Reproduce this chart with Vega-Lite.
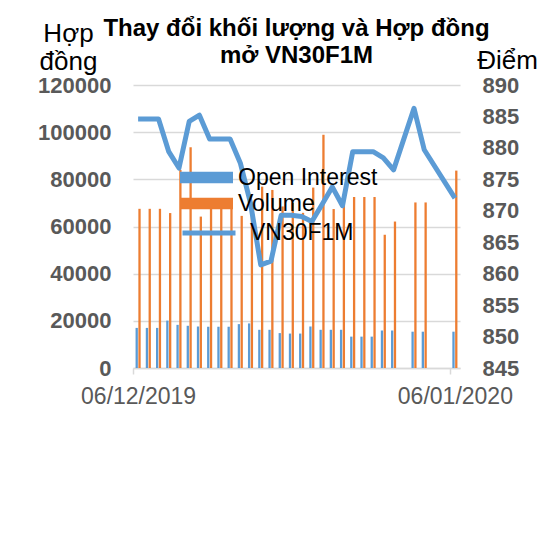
{
  "$schema": "https://vega.github.io/schema/vega-lite/v6.json",
  "autosize": {"type": "none"},
  "width": 327,
  "height": 283,
  "padding": {"left": 133, "top": 85, "right": 90, "bottom": 172},
  "config": {
    "view": {"stroke": null},
    "font": "Liberation Sans",
    "background": "white"
  },
  "title": {
    "text": ["Thay đổi khối lượng và Hợp đồng", "mở VN30F1M"],
    "frame": "group",
    "anchor": "middle",
    "baseline": "alphabetic",
    "offset": -67,
    "lineHeight": 27,
    "fontSize": 24,
    "fontWeight": "bold",
    "color": "#000000",
    "font": "Liberation Sans"
  },
  "data": {
    "values": [
      {"date": "2019-12-06", "oi": 17000, "vol": 67500, "price": 884.6},
      {"date": "2019-12-07", "oi": 17000, "vol": 67500, "price": 884.6},
      {"date": "2019-12-08", "oi": 17000, "vol": 67500, "price": 884.6},
      {"date": "2019-12-09", "oi": 20100, "vol": 65700, "price": 879.4},
      {"date": "2019-12-10", "oi": 18300, "vol": 84000, "price": 876.8},
      {"date": "2019-12-11", "oi": 17900, "vol": 93600, "price": 884.2},
      {"date": "2019-12-12", "oi": 17600, "vol": 64200, "price": 885.2},
      {"date": "2019-12-13", "oi": 17500, "vol": 70500, "price": 881.4},
      {"date": "2019-12-14", "oi": 17500, "vol": 71500, "price": 881.4},
      {"date": "2019-12-15", "oi": 17500, "vol": 71000, "price": 881.4},
      {"date": "2019-12-16", "oi": 18600, "vol": 64500, "price": 877.6},
      {"date": "2019-12-17", "oi": 18900, "vol": 69900, "price": 871.2},
      {"date": "2019-12-18", "oi": 16200, "vol": 76900, "price": 861.4},
      {"date": "2019-12-19", "oi": 16200, "vol": 75500, "price": 862.0},
      {"date": "2019-12-20", "oi": 14800, "vol": 68500, "price": 869.3},
      {"date": "2019-12-21", "oi": 14600, "vol": 70000, "price": 869.3},
      {"date": "2019-12-22", "oi": 14600, "vol": 65800, "price": 869.1},
      {"date": "2019-12-23", "oi": 17600, "vol": 76500, "price": 868.3},
      {"date": "2019-12-24", "oi": 16200, "vol": 98900, "price": 871.0},
      {"date": "2019-12-25", "oi": 16200, "vol": 67400, "price": 873.8},
      {"date": "2019-12-26", "oi": 16200, "vol": 69200, "price": 870.8},
      {"date": "2019-12-27", "oi": 13300, "vol": 72500, "price": 879.4},
      {"date": "2019-12-28", "oi": 13300, "vol": 72500, "price": 879.4},
      {"date": "2019-12-29", "oi": 13300, "vol": 72500, "price": 879.4},
      {"date": "2019-12-30", "oi": 15900, "vol": 56500, "price": 878.4},
      {"date": "2019-12-31", "oi": 15900, "vol": 62100, "price": 876.5},
      {"date": "2020-01-02", "oi": 15400, "vol": 70200, "price": 886.3},
      {"date": "2020-01-03", "oi": 15400, "vol": 70200, "price": 879.7},
      {"date": "2020-01-06", "oi": 15400, "vol": 83700, "price": 872.0}
    ]
  },
  "encoding": {
    "x": {
      "field": "date",
      "type": "temporal",
      "scale": {
        "type": "utc",
        "nice": false,
        "padding": 0,
        "domain": [
          {"year": 2019, "month": 12, "date": 5, "hours": 12, "utc": true},
          {"year": 2020, "month": 1, "date": 6, "hours": 12, "utc": true}
        ]
      },
      "axis": {
        "title": null,
        "values": [
          {"year": 2019, "month": 12, "date": 6, "utc": true},
          {"year": 2020, "month": 1, "date": 6, "utc": true}
        ],
        "format": "%d/%m/%Y",
        "labelFontSize": 23,
        "labelColor": "#595959",
        "labelFont": "Liberation Sans",
        "labelPadding": 11,
        "labelOffset": 5,
        "labelOverlap": false,
        "labelFlush": false,
        "domainColor": "#D9D9D9",
        "domainWidth": 1.5,
        "tickColor": "#D9D9D9",
        "tickSize": 6,
        "tickWidth": 1.5,
        "tickOffset": -5,
        "grid": false
      }
    }
  },
  "layer": [
    {
      "mark": {"type": "bar", "width": 2.3, "xOffset": -1.4},
      "encoding": {
        "y": {
          "field": "oi",
          "type": "quantitative",
          "scale": {"domain": [0, 120000], "nice": false},
          "axis": {
            "orient": "left",
            "values": [0, 20000, 40000, 60000, 80000, 100000, 120000],
            "format": "d",
            "labelFontSize": 22,
            "labelFontWeight": "bold",
            "labelColor": "#595959",
            "labelPadding": 22,
            "ticks": false,
            "domain": false,
            "grid": true,
            "gridColor": "#D9D9D9",
            "gridWidth": 1.5,
            "title": ["Hợp", "đồng"],
            "titleAngle": 0,
            "titleAlign": "center",
            "titleBaseline": "alphabetic",
            "titleX": -65,
            "titleY": -44,
            "titleLineHeight": 28,
            "titleFontSize": 26,
            "titleFontWeight": "normal",
            "titleColor": "#000000"
          }
        },
        "fill": {
          "datum": "Open Interest",
          "scale": {"range": ["#5B9BD5"]},
          "legend": {
            "orient": "none",
            "legendX": 47,
            "legendY": 66,
            "title": null,
            "padding": 0,
            "symbolType": "M-1,-0.22H1V0.22H-1Z",
            "symbolSize": 2809,
            "symbolStrokeWidth": 0,
            "symbolOpacity": 1,
            "labelFontSize": 23,
            "labelColor": "#000000",
            "labelOffset": 5,
            "labelLimit": 300
          }
        }
      }
    },
    {
      "mark": {"type": "bar", "width": 2.3, "xOffset": 1.4},
      "encoding": {
        "y": {
          "field": "vol",
          "type": "quantitative",
          "scale": {"domain": [0, 120000], "nice": false},
          "axis": null
        },
        "fill": {
          "datum": "Volume",
          "scale": {"range": ["#ED7D31"]},
          "legend": {
            "orient": "none",
            "legendX": 47,
            "legendY": 92,
            "title": null,
            "padding": 0,
            "symbolType": "M-1,-0.22H1V0.22H-1Z",
            "symbolSize": 2809,
            "symbolStrokeWidth": 0,
            "symbolOpacity": 1,
            "labelFontSize": 23,
            "labelColor": "#000000",
            "labelOffset": 5,
            "labelLimit": 300
          }
        }
      }
    },
    {
      "mark": {"type": "line", "strokeWidth": 5, "strokeJoin": "round", "strokeCap": "butt"},
      "encoding": {
        "y": {
          "field": "price",
          "type": "quantitative",
          "scale": {"domain": [845, 890], "nice": false, "zero": false},
          "axis": {
            "orient": "right",
            "values": [845, 850, 855, 860, 865, 870, 875, 880, 885, 890],
            "labelFontSize": 22,
            "labelFontWeight": "bold",
            "labelColor": "#595959",
            "labelPadding": 22,
            "ticks": false,
            "domain": false,
            "grid": false,
            "title": "Điểm",
            "titleAngle": 0,
            "titleAlign": "center",
            "titleBaseline": "alphabetic",
            "titleX": 47,
            "titleY": -17,
            "titleFontSize": 26,
            "titleFontWeight": "normal",
            "titleColor": "#000000"
          }
        },
        "stroke": {
          "datum": "VN30F1M",
          "scale": {"range": ["#5B9BD5"]},
          "legend": {
            "orient": "none",
            "legendX": 47,
            "legendY": 119,
            "title": null,
            "padding": 0,
            "symbolType": "stroke",
            "symbolSize": 2809,
            "symbolStrokeWidth": 5,
            "labelFontSize": 23,
            "labelColor": "#000000",
            "labelOffset": 12,
            "labelLimit": 300
          }
        }
      }
    }
  ],
  "resolve": {
    "scale": {"y": "independent", "fill": "independent", "stroke": "independent"},
    "legend": {"fill": "independent", "stroke": "independent"}
  }
}
